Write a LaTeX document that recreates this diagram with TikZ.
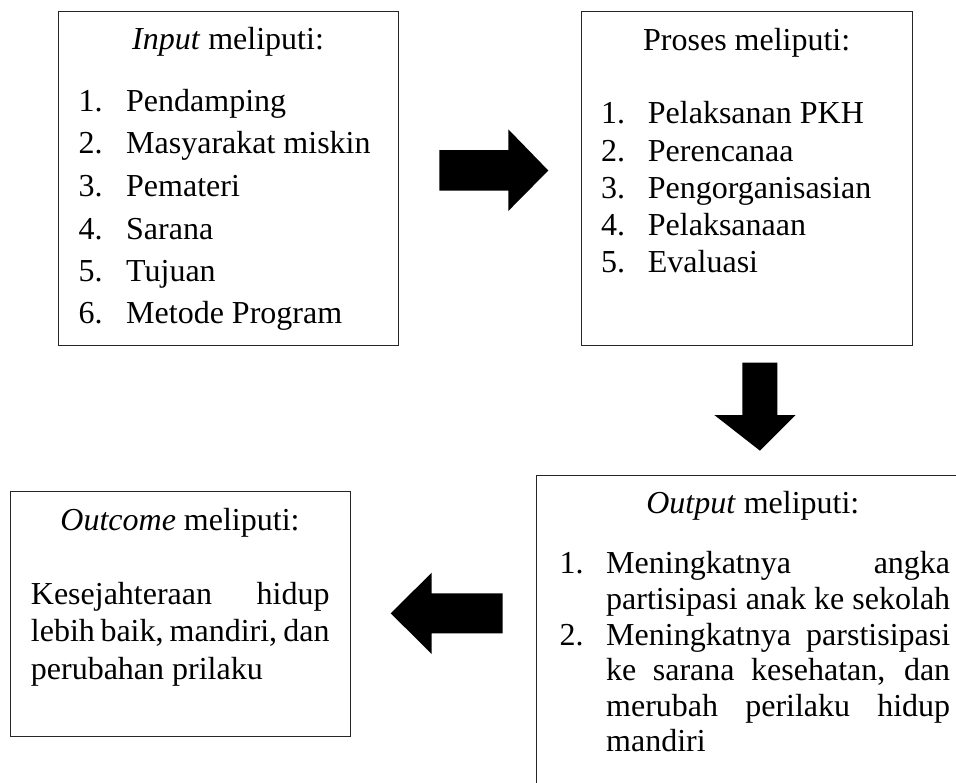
\documentclass[tikz,border=0pt]{standalone}
\usepackage{fontspec}
\setmainfont{Liberation Serif}
\begin{document}
\begin{tikzpicture}[x=1pt,y=-1pt,
  frame/.style={draw=black!85,line width=0.9pt},
  blockarrow/.style={fill=black},
  txt/.style={anchor=base west,inner sep=0pt,font=\fontsize{32}{38}\selectfont},
  ttl/.style={anchor=base,inner sep=0pt,font=\fontsize{32}{38}\selectfont}]
\useasboundingbox (0,0) rectangle (956,782);
\clip (0,0) rectangle (956,782);
% boxes
\draw[frame] (58,11) rectangle (398,345);
\draw[frame] (581,11.5) rectangle (912.7,345);
\draw[frame] (536.7,475.7) rectangle (975,800);
\draw[frame] (10,491.7) rectangle (350,736);
% arrows
\fill[blockarrow] (439.3,150) -- (508.3,150) -- (508.3,129.3) -- (548.3,170.5) -- (508.3,211) -- (508.3,190.7) -- (439.3,190.7) -- cycle;
\fill[blockarrow] (742.3,362.7) -- (777.3,362.7) -- (777.3,415) -- (795.7,415) -- (760,450.7) -- (714.3,415) -- (742.3,415) -- cycle;
\fill[blockarrow] (502.7,593.3) -- (431.7,593.3) -- (431.7,572.7) -- (390.7,613.3) -- (431.7,654) -- (431.7,633.3) -- (502.7,633.3) -- cycle;
% box 1
\node[ttl] (t1) at (228,49.3) {\textit{Input} meliputi:};
\node[txt] (n11) at (78.3,111.7) {1.};
\node[txt] (i11) at (126,111.7) {Pendamping};
\node[txt] (n12) at (78.3,153.3) {2.};
\node[txt] (i12) at (126,153.3) {Masyarakat miskin};
\node[txt] (n13) at (78.3,196.7) {3.};
\node[txt] (i13) at (126,196.7) {Pemateri};
\node[txt] (n14) at (78.3,239) {4.};
\node[txt] (i14) at (126,239) {Sarana};
\node[txt] (n15) at (78.3,281) {5.};
\node[txt] (i15) at (126,281) {Tujuan};
\node[txt] (n16) at (78.3,323.3) {6.};
\node[txt] (i16) at (126,323.3) {Metode Program};
% box 2
\node[ttl] (t2) at (746.7,50) {Proses meliputi:};
\node[txt] (n21) at (601,123.3) {1.};
\node[txt] (i21) at (647.7,123.3) {Pelaksanan PKH};
\node[txt] (n22) at (601,161) {2.};
\node[txt] (i22) at (647.7,161) {Perencanaa};
\node[txt] (n23) at (601,198.3) {3.};
\node[txt] (i23) at (647.7,198.3) {Pengorganisasian};
\node[txt] (n24) at (601,235) {4.};
\node[txt] (i24) at (647.7,235) {Pelaksanaan};
\node[txt] (n25) at (601,272.7) {5.};
\node[txt] (i25) at (647.7,272.7) {Evaluasi};
% box 3
\node[ttl] (t3) at (752.8,513.3) {\textit{Output} meliputi:};
\node[txt] (n31) at (559.3,573.3) {1.};
\node[txt] (l31) at (606,573.3) {\makebox[344pt][s]{Meningkatnya angka}};
\node[txt] (l32) at (606,609) {\makebox[344pt][s]{partisipasi anak ke sekolah}};
\node[txt] (n32) at (559.3,645) {2.};
\node[txt] (l33) at (606,645) {\makebox[344pt][s]{Meningkatnya parstisipasi}};
\node[txt] (l34) at (606,680) {\makebox[344pt][s]{ke sarana kesehatan, dan}};
\node[txt] (l35) at (606,716) {\makebox[344pt][s]{merubah perilaku hidup}};
\node[txt] (l36) at (606,751) {mandiri};
% box 4
\node[ttl] (t4) at (180,530) {\textit{Outcome} meliputi:};
\node[txt] (l41) at (30.7,604) {\makebox[298.6pt][s]{Kesejahteraan hidup}};
\node[txt] (l42) at (30.7,641) {\makebox[298.6pt][s]{lebih baik, mandiri, dan}};
\node[txt] (l43) at (30.7,679) {perubahan prilaku};
\end{tikzpicture}
\end{document}
